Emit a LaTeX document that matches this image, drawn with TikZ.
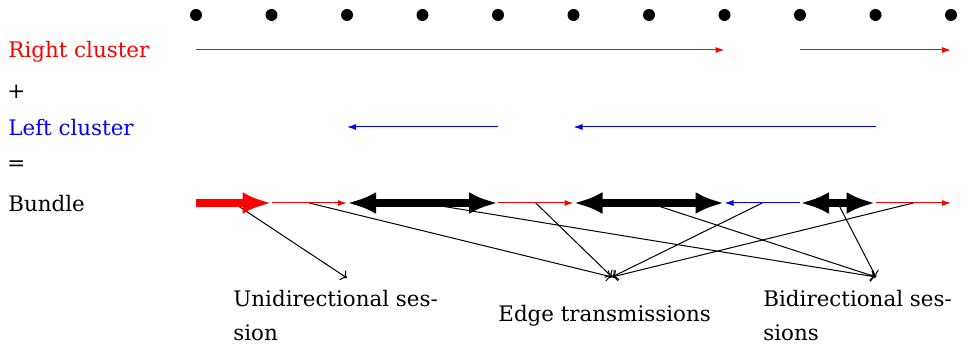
\documentclass[tikz,border=0pt]{standalone}
\usepackage{fontspec}
\setmainfont{DejaVu Serif}
\usetikzlibrary{arrows.meta}
\begin{document}
\begin{tikzpicture}[x=0.5pt,y=-0.5pt,
  lbl/.style={inner sep=0pt, anchor=base west, font=\fontsize{10.7}{17}\selectfont, align=left},
  dotnode/.style={circle, fill=black, inner sep=0pt, minimum size=6pt},
  thinarr/.style={line width=0.5pt, -{Latex[length=4.5pt,width=3pt]}},
  thickarr/.style={line width=3.75pt, {Latex[length=14.5pt,width=11pt]}-{Latex[length=14.5pt,width=11pt]}},
  thickone/.style={line width=3.75pt, -{Latex[length=14.5pt,width=11pt]}},
  conn/.style={line width=0.5pt, ->},
]
\useasboundingbox (0,0) rectangle (971,346);
% columns
\foreach \i in {0,...,10} {
  \node[dotnode] (p\i) at ({196+75.5*\i},15) {};
  \coordinate (r\i) at ({196+75.5*\i},50);
  \coordinate (l\i) at ({196+75.5*\i},127);
  \coordinate (b\i) at ({196+75.5*\i},203);
}
\foreach \i in {0,...,9} {
  \coordinate (m\i) at ({196+75.5*(\i+0.5)},203);
}
% row labels
\node[lbl, text=red] (tr) at (8,58) {Right cluster};
\node[lbl] (tp) at (7,99) {+};
\node[lbl, text=blue] (tl) at (8,136) {Left cluster};
\node[lbl] (tq) at (7,171) {=};
\node[lbl] (tb) at (8,212) {Bundle};
% clusters
\draw[thinarr, red] (r0) -- (r7);
\draw[thinarr, red] (r8) -- (r10);
\draw[thinarr, blue] (l4) -- (l2);
\draw[thinarr, blue] (l9) -- (l5);
% label anchors
\coordinate (U) at (347,278);
\coordinate (E) at (612,277);
\coordinate (B) at (876,277);
% connectors (below the bundle arrows)
\draw[conn] (m0) -- (U);
\draw[conn] (m1) -- (E);
\draw[conn] (b3) -- (B);
\draw[conn] (m4) -- (E);
\draw[conn] (b6) -- (B);
\draw[conn] (m7) -- (E);
\draw[conn] (m8) -- (B);
\draw[conn] (m9) -- (E);
% bundle
\draw[thickone, red] (b0) -- (b1);
\draw[thinarr, red] (b1) -- (b2);
\draw[thickarr] (b2) -- (b4);
\draw[thinarr, red] (b4) -- (b5);
\draw[thickarr] (b5) -- (b7);
\draw[thinarr, blue] (b8) -- (b7);
\draw[thickarr] (b8) -- (b9);
\draw[thinarr, red] (b9) -- (b10);
% labels
\node[lbl] (tu) at (233,340.5) {Unidirectional ses-\\sion};
\node[lbl] (te) at (498,321.7) {Edge transmissions};
\node[lbl] (tbi) at (763,340.5) {Bidirectional ses-\\sions};
\end{tikzpicture}
\end{document}
